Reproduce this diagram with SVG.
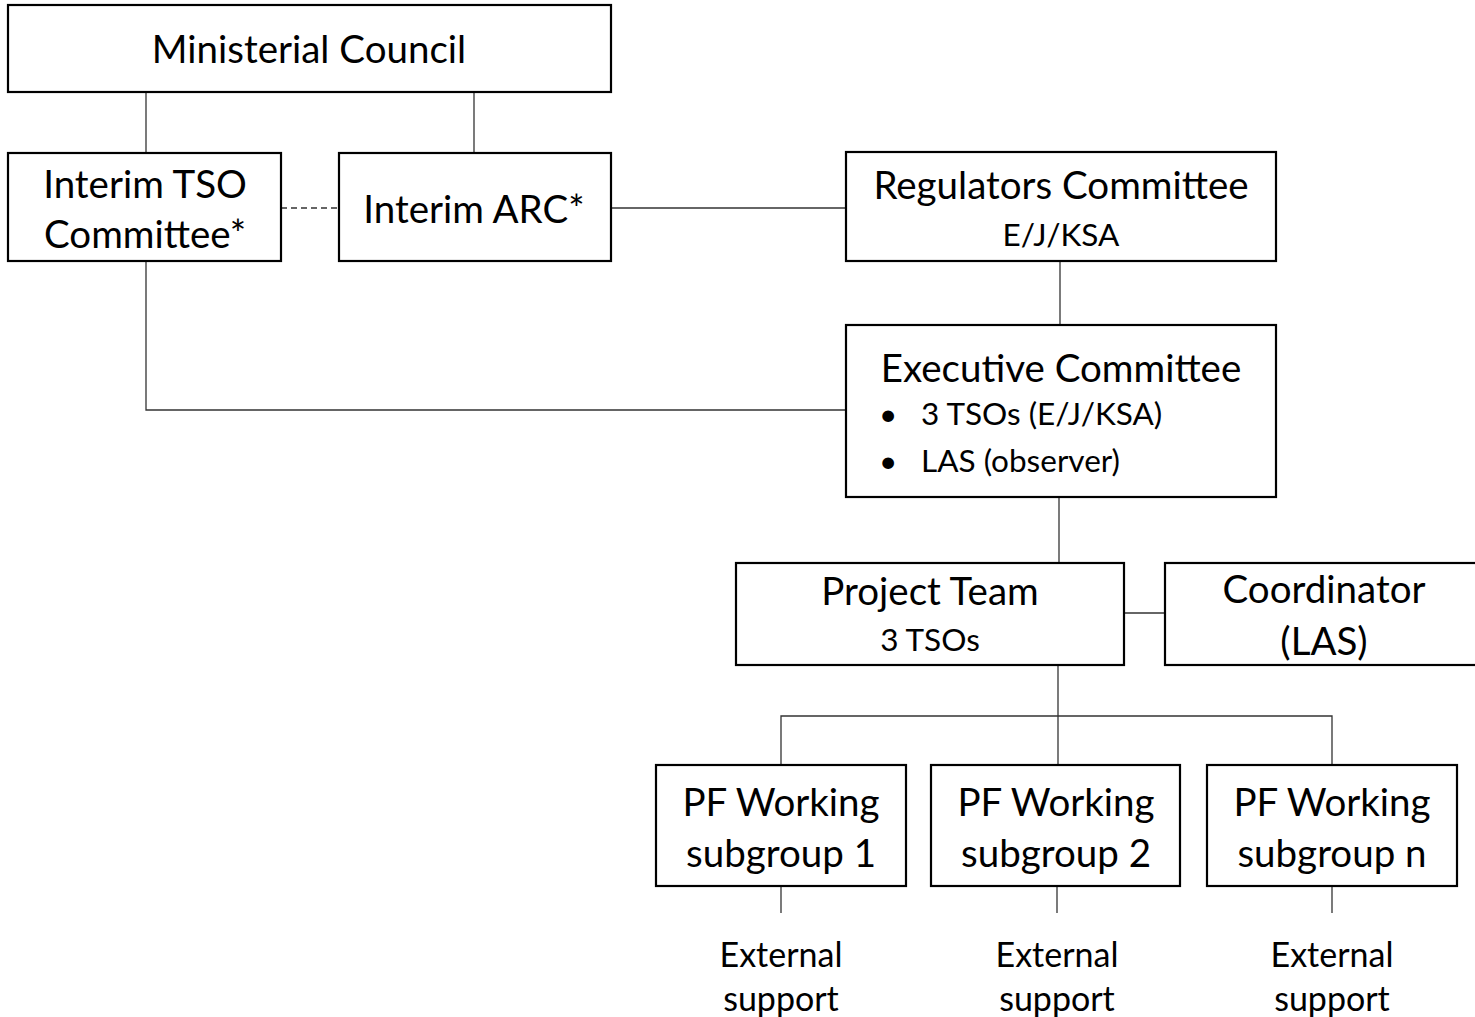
<svg xmlns="http://www.w3.org/2000/svg" width="1475" height="1017" viewBox="0 0 1475 1017">
<style>
.box{fill:#fff;stroke:#000;stroke-width:2.2}
.con{fill:none;stroke:#333;stroke-width:1.3}
.dash{stroke-dasharray:6 4}
text{font-family:Lato,"Open Sans","Liberation Sans",sans-serif;fill:#000;text-anchor:middle}
.t{font-size:38.5px}
.s{font-size:31.5px}
.e{font-size:34px}
.l{text-anchor:start}
</style>
<rect width="1475" height="1017" fill="#fff"/>
<g id="connectors">
<line class="con" x1="146" y1="92" x2="146" y2="153"/>
<line class="con" x1="474" y1="92" x2="474" y2="153"/>
<line class="con dash" x1="281" y1="208" x2="339" y2="208"/>
<line class="con" x1="611" y1="208" x2="846" y2="208"/>
<line class="con" x1="1060" y1="261" x2="1060" y2="325"/>
<polyline class="con" points="146,261 146,410 846,410"/>
<line class="con" x1="1059" y1="497" x2="1059" y2="563"/>
<line class="con" x1="1124" y1="613" x2="1165" y2="613"/>
<line class="con" x1="1058" y1="665" x2="1058" y2="765"/>
<polyline class="con" points="781,765 781,716 1332,716 1332,765"/>
<line class="con" x1="781" y1="886" x2="781" y2="913"/>
<line class="con" x1="1057" y1="886" x2="1057" y2="913"/>
<line class="con" x1="1332" y1="886" x2="1332" y2="913"/>
</g>
<g id="ministerial-council">
<rect class="box" x="8" y="5" width="603" height="87"/>
<text class="t" x="309" y="63">Ministerial Council</text>
</g>
<g id="interim-tso">
<rect class="box" x="8" y="153" width="273" height="108"/>
<text class="t" x="145" y="198">Interim TSO</text>
<text class="t" x="145" y="248">Committee*</text>
</g>
<g id="interim-arc">
<rect class="box" x="339" y="153" width="272" height="108"/>
<text class="t" x="474" y="223">Interim ARC*</text>
</g>
<g id="regulators">
<rect class="box" x="846" y="152" width="430" height="109"/>
<text class="t" x="1061" y="199">Regulators Committee</text>
<text class="s" x="1061" y="246">E/J/KSA</text>
</g>
<g id="executive">
<rect class="box" x="846" y="325" width="430" height="172"/>
<text class="t" x="1061" y="382">Executive Committee</text>
<text class="s l" x="879" y="425">•</text>
<text class="s l" x="921" y="425">3 TSOs (E/J/KSA)</text>
<text class="s l" x="879" y="472">•</text>
<text class="s l" x="921" y="472">LAS (observer)</text>
</g>
<g id="project-team">
<rect class="box" x="736" y="563" width="388" height="102"/>
<text class="t" x="930" y="605">Project Team</text>
<text class="s" x="930" y="651">3 TSOs</text>
</g>
<g id="coordinator">
<rect class="box" x="1165" y="563" width="315" height="102"/>
<text class="t" x="1324" y="603">Coordinator</text>
<text class="t" x="1324" y="655">(LAS)</text>
</g>
<g id="subgroup-1">
<rect class="box" x="656" y="765" width="250" height="121"/>
<text class="t" x="781" y="816">PF Working</text>
<text class="t" x="781" y="867">subgroup 1</text>
</g>
<g id="subgroup-2">
<rect class="box" x="931" y="765" width="249" height="121"/>
<text class="t" x="1056" y="816">PF Working</text>
<text class="t" x="1056" y="867">subgroup 2</text>
</g>
<g id="subgroup-n">
<rect class="box" x="1207" y="765" width="250" height="121"/>
<text class="t" x="1332" y="816">PF Working</text>
<text class="t" x="1332" y="867">subgroup n</text>
</g>
<g id="external-1">
<text class="e" x="781" y="967">External</text>
<text class="e" x="781" y="1011">support</text>
</g>
<g id="external-2">
<text class="e" x="1057" y="967">External</text>
<text class="e" x="1057" y="1011">support</text>
</g>
<g id="external-n">
<text class="e" x="1332" y="967">External</text>
<text class="e" x="1332" y="1011">support</text>
</g>
</svg>
